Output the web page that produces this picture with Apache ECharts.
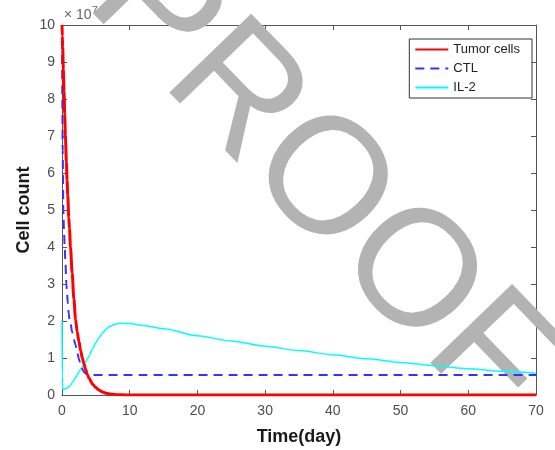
<!DOCTYPE html>
<html>
<head>
<meta charset="utf-8">
<script src="https://cdn.jsdelivr.net/npm/echarts@6/dist/echarts.min.js"></script>
<style>
  html, body { margin: 0; padding: 0; background: #fff; }
  #chart { width: 555px; height: 450px; }
</style>
</head>
<body>
<div id="chart"></div>
<script>
// time points (day)
var time = [0, 0.05, 0.1, 0.2, 0.3, 0.4, 0.5, 0.65, 0.75, 0.85, 1, 1.1, 1.25, 1.5, 1.75, 2, 2.25, 2.5, 2.75, 3, 3.25, 3.5, 3.75, 4, 4.5, 5, 5.5, 6, 6.5, 7, 8, 9, 10, 12, 15, 20, 25, 30, 35, 40, 45, 50, 55, 60, 65, 70];

// values in units of 1e7
var tumorCells = [10, 9.7, 9.4, 8.8, 8.2, 7.6, 7.0, 6.3, 5.8, 5.4, 4.8, 4.5, 4.0, 3.3, 2.6, 2.05, 1.7, 1.45, 1.2, 1.0, 0.84, 0.68, 0.55, 0.45, 0.3, 0.2, 0.13, 0.08, 0.05, 0.03, 0.01, 0.005, 0, 0, 0, 0, 0, 0, 0, 0, 0, 0, 0, 0, 0, 0];
var ctl = [10, 8, 6.6, 5.0, 4.4, 4.0, 3.6, 3.0, 2.75, 2.5, 2.2, 2.05, 1.95, 1.7, 1.5, 1.35, 1.15, 0.97, 0.82, 0.7, 0.62, 0.58, 0.56, 0.55, 0.54, 0.54, 0.54, 0.54, 0.54, 0.54, 0.54, 0.54, 0.54, 0.54, 0.54, 0.54, 0.54, 0.54, 0.54, 0.54, 0.54, 0.54, 0.54, 0.54, 0.54, 0.54];
var il2 = [2.0, 0.4, 0.17, 0.15, 0.15, 0.16, 0.17, 0.18, 0.19, 0.2, 0.22, 0.24, 0.27, 0.33, 0.4, 0.47, 0.55, 0.62, 0.69, 0.76, 0.83, 0.9, 0.98, 1.06, 1.24, 1.42, 1.56, 1.68, 1.78, 1.85, 1.92, 1.94, 1.93, 1.88, 1.79, 1.6, 1.46, 1.32, 1.2, 1.09, 0.98, 0.88, 0.79, 0.71, 0.64, 0.59];

var seriesNames = ["Tumor cells", "CTL", "IL-2"];

function pairs(vals) {
  return time.map(function (t, i) { return [t, vals[i]]; });
}

var font = "'Liberation Sans', Arial, sans-serif";
var axisColor = "#555";
var labelColor = "#4d4d4d";

var myChart = echarts.init(document.getElementById("chart"));

var option = {
  animation: false,
  backgroundColor: "#fff",
  textStyle: { fontFamily: font },
  grid: { left: 62, right: 19, top: 25, bottom: 55, outerBoundsMode: "none", containLabel: false },
  legend: {
    orient: "vertical",
    right: 23,
    top: 39,
    padding: [4, 12, 4, 5],
    itemGap: 6,
    itemWidth: 33,
    itemHeight: 12,
    backgroundColor: "#fff",
    borderColor: "#333",
    borderWidth: 1,
    borderRadius: 0,
    itemStyle: { opacity: 0 },
    textStyle: { fontFamily: font, fontSize: 13, lineHeight: 13, color: "#222" },
    data: seriesNames
  },
  xAxis: [
    {
      type: "value",
      min: 0,
      max: 70,
      interval: 10,
      name: "Time(day)",
      nameLocation: "middle",
      nameGap: 33,
      nameMoveOverlap: false,
      nameTextStyle: { fontFamily: font, fontSize: 18, fontWeight: "bold", color: "#1a1a1a" },
      axisLine: { show: true, onZero: false, lineStyle: { color: axisColor, width: 1 } },
      axisTick: { show: true, inside: true, length: 5, lineStyle: { color: axisColor } },
      axisLabel: { margin: 9, fontSize: 14, color: labelColor, fontFamily: font },
      splitLine: { show: false }
    },
    {
      type: "value",
      position: "top",
      min: 0,
      max: 70,
      interval: 10,
      axisLine: { show: true, onZero: false, lineStyle: { color: axisColor, width: 1 } },
      axisTick: { show: true, inside: true, length: 5, lineStyle: { color: axisColor } },
      axisLabel: { show: false },
      splitLine: { show: false }
    }
  ],
  yAxis: [
    {
      type: "value",
      min: 0,
      max: 10,
      interval: 1,
      name: "Cell count",
      nameLocation: "middle",
      nameGap: 29,
      nameRotate: 90,
      nameMoveOverlap: false,
      nameTextStyle: { fontFamily: font, fontSize: 18, fontWeight: "bold", color: "#1a1a1a" },
      axisLine: { show: true, onZero: false, lineStyle: { color: axisColor, width: 1 } },
      axisTick: { show: true, inside: true, length: 5, lineStyle: { color: axisColor } },
      axisLabel: { margin: 7, fontSize: 14, color: labelColor, fontFamily: font },
      splitLine: { show: false }
    },
    {
      type: "value",
      position: "right",
      min: 0,
      max: 10,
      interval: 1,
      axisLine: { show: true, onZero: false, lineStyle: { color: axisColor, width: 1 } },
      axisTick: { show: true, inside: true, length: 5, lineStyle: { color: axisColor } },
      axisLabel: { show: false },
      splitLine: { show: false }
    }
  ],
  graphic: [
    {
      type: "text",
      left: 64,
      top: 5,
      style: {
        text: "{a|\u00d7 10}{b|7}",
        rich: {
          a: { fontFamily: font, fontSize: 14, fill: "#666", verticalAlign: "bottom" },
          b: { fontFamily: font, fontSize: 11, fill: "#666", verticalAlign: "top", padding: [0, 0, 6, 0] }
        }
      }
    },
    {
      // watermark
      type: "text",
      x: 320,
      y: 183,
      rotation: -46 * Math.PI / 180,
      z: 1,
      style: {
        text: "PROOF",
        fontFamily: font,
        fontSize: 165,
        fill: "#b3b3b3",
        textAlign: "center",
        textVerticalAlign: "middle"
      }
    }
  ],
  series: [
    {
      name: "Tumor cells",
      type: "line",
      data: pairs(tumorCells),
      showSymbol: false,
      symbol: "none",
      smooth: 0.3,
      smoothMonotone: "x",
      z: 5,
      lineStyle: { color: "#ff0000", width: 3, type: "solid" },
      itemStyle: { color: "#ff0000" }
    },
    {
      name: "CTL",
      type: "line",
      data: pairs(ctl),
      showSymbol: false,
      symbol: "none",
      smooth: 0.3,
      smoothMonotone: "x",
      z: 4,
      lineStyle: { color: "#3333ff", width: 2, type: [9, 6] },
      itemStyle: { color: "#3333ff" }
    },
    {
      name: "IL-2",
      type: "line",
      data: pairs(il2),
      showSymbol: false,
      symbol: "none",
      smooth: 0.3,
      smoothMonotone: "x",
      z: 3,
      lineStyle: { color: "#00ffff", width: 1.5, type: "solid" },
      itemStyle: { color: "#00ffff" }
    }
  ]
};

myChart.setOption(option);
</script>
</body>
</html>
